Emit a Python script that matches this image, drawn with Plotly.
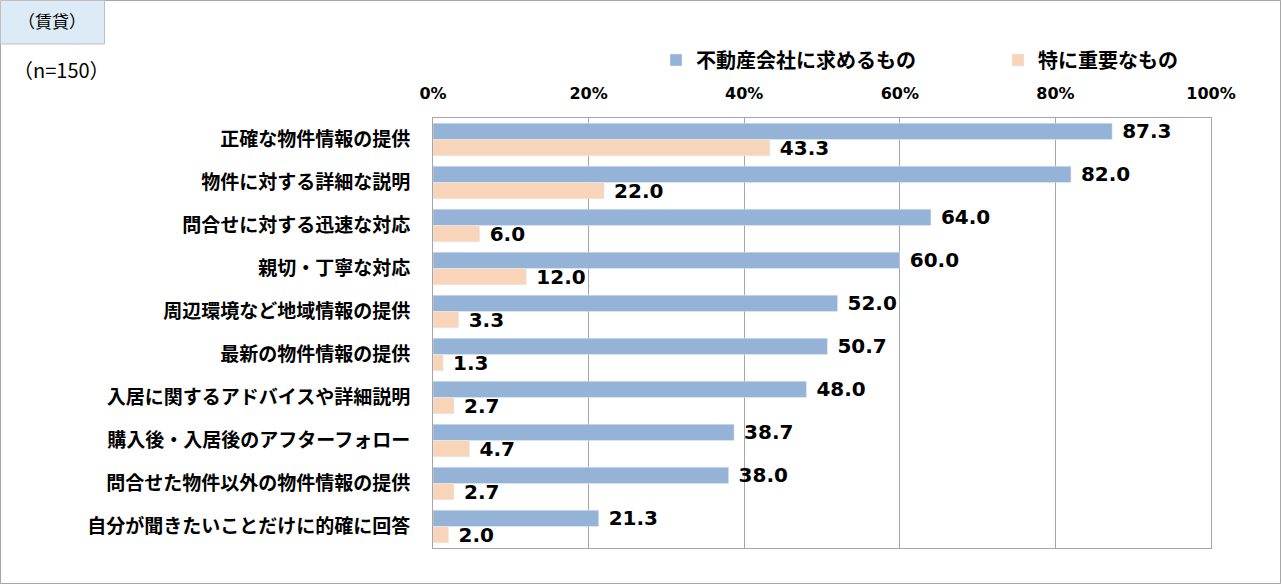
import plotly.graph_objects as go

categories = [
    "正確な物件情報の提供",
    "物件に対する詳細な説明",
    "問合せに対する迅速な対応",
    "親切・丁寧な対応",
    "周辺環境など地域情報の提供",
    "最新の物件情報の提供",
    "入居に関するアドバイスや詳細説明",
    "購入後・入居後のアフターフォロー",
    "問合せた物件以外の物件情報の提供",
    "自分が聞きたいことだけに的確に回答",
]
series1_name = "不動産会社に求めるもの"
series1 = [87.3, 82.0, 64.0, 60.0, 52.0, 50.7, 48.0, 38.7, 38.0, 21.3]
series2_name = "特に重要なもの"
series2 = [43.3, 22.0, 6.0, 12.0, 3.3, 1.3, 2.7, 4.7, 2.7, 2.0]
tick_vals = [0, 20, 40, 60, 80, 100]
tick_text = ["0%", "20%", "40%", "60%", "80%", "100%"]

W, H = 1282, 586
L, R, T, B = 433, 1211, 118, 548
JP = "Noto Sans CJK JP"
NUM = "DejaVu Sans"


def px(x):
    return (x - L) / (R - L)


def py(y):
    return (B - y) / (B - T)


fig = go.Figure()
fig.add_trace(go.Bar(
    y=categories, x=series1, name=series1_name, orientation="h",
    marker=dict(color="#95B3D7"),
    texttemplate=" %{x:.1f}", textposition="outside",
    constraintext="inside",
    textfont=dict(family=NUM, size=20, color="#000000", weight="bold"),
    cliponaxis=False, legend="legend",
))
fig.add_trace(go.Bar(
    y=categories, x=series2, name=series2_name, orientation="h",
    marker=dict(color="#F8D5B8"),
    texttemplate=" %{x:.1f}", textposition="outside",
    constraintext="inside",
    textfont=dict(family=NUM, size=20, color="#000000", weight="bold"),
    cliponaxis=False, legend="legend2",
))

shapes = [
    dict(type="rect", xref="paper", yref="paper",
         x0=px(0.5), x1=px(1280.5), y0=py(583.5), y1=py(0.5),
         line=dict(color="#A6A6A6", width=1), fillcolor="rgba(0,0,0,0)", layer="below"),
    dict(type="rect", xref="paper", yref="paper",
         x0=px(0.5), x1=px(104.5), y0=py(44), y1=py(0.5),
         line=dict(color="#BFBFBF", width=1), fillcolor="#DDEBF7", layer="below"),
]

annotations = [
    dict(text="（賃貸）", xref="paper", yref="paper", x=px(52), y=py(21),
         xanchor="center", yanchor="middle", showarrow=False,
         font=dict(family=JP, size=17, color="#000000")),
    dict(text="（n=150）", xref="paper", yref="paper", x=px(11), y=py(70),
         xanchor="left", yanchor="middle", showarrow=False,
         font=dict(family=JP, size=20, color="#000000")),
]

legend_common = dict(orientation="h", yanchor="middle", xanchor="left",
                     font=dict(family=JP, size=20, color="#000000", weight="bold"),
                     itemwidth=30, bgcolor="rgba(0,0,0,0)")

fig.update_layout(
    width=W, height=H,
    margin=dict(l=L, r=W - R, t=T, b=H - B),
    paper_bgcolor="#FFFFFF", plot_bgcolor="#FFFFFF",
    barmode="group", bargap=0.24, bargroupgap=0.0,
    shapes=shapes, annotations=annotations,
    showlegend=True,
    legend=dict(x=px(656), y=py(60), **legend_common),
    legend2=dict(x=px(998), y=py(60), **legend_common),
    xaxis=dict(range=[0, 100], side="top", tickvals=tick_vals, ticktext=tick_text,
               showgrid=True, gridcolor="#A6A6A6", gridwidth=1,
               showline=True, linecolor="#A6A6A6", linewidth=1, mirror=True,
               zeroline=False, ticks="", ticklen=0, ticklabelstandoff=12,
               tickfont=dict(family=NUM, size=16, color="#000000", weight="bold")),
    yaxis=dict(autorange="reversed", showline=True, linecolor="#A6A6A6", linewidth=1,
               mirror=True, ticks="", ticklabelstandoff=18,
               tickfont=dict(family=JP, size=19, color="#000000", weight="bold")),
)

fig.write_html("out.html")
